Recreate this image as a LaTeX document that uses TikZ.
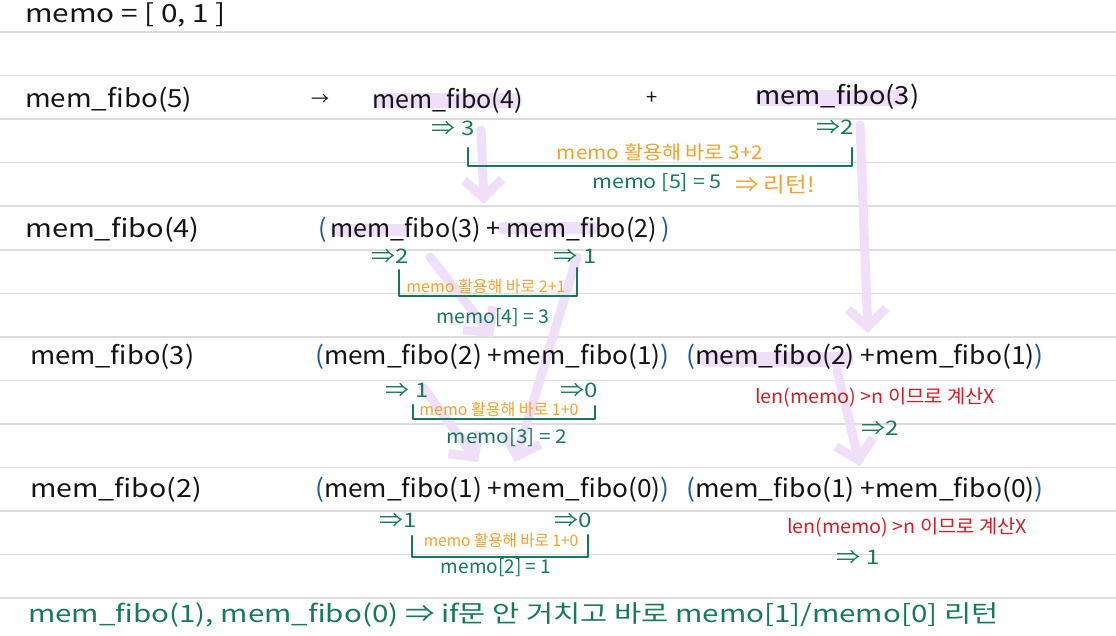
\documentclass[tikz,border=0pt]{standalone}
\usepackage{fontspec}
\setmainfont{Noto Sans CJK KR}
\usetikzlibrary{arrows.meta}
\definecolor{ink}{HTML}{141414}
\definecolor{pgreen}{HTML}{17795A}
\definecolor{porange}{HTML}{F0A22E}
\definecolor{pred}{HTML}{CF1F28}
\definecolor{pblue}{HTML}{1E5A96}
\definecolor{lav}{HTML}{EFDFF8}
\definecolor{rulec}{HTML}{DCDCDC}
\newcommand{\lp}{{\color{pblue}(}}
\newcommand{\rp}{{\color{pblue})}}
\newcommand{\xstr}[2]{\scalebox{#1}[1]{#2}}
\begin{document}
\begin{tikzpicture}[x=1pt,y=-1pt,
 big/.style={font=\fontsize{25}{27}\selectfont, text=ink, inner sep=0pt, anchor=west},
 gr/.style={font=\fontsize{19}{21}\selectfont, text=pgreen, inner sep=0pt},
 arrl/.style={font=\fontsize{20}{22}\selectfont, text=pgreen, inner sep=0pt},
 org/.style={font=\fontsize{16}{18}\selectfont, text=porange, inner sep=0pt},
 rd/.style={font=\fontsize{19}{21}\selectfont, text=pred, inner sep=0pt},
 bracketline/.style={draw=pgreen, line width=2.2pt, line cap=round, line join=round},
 flow/.style={draw=lav, line width=9pt, line cap=round, -{Straight Barb[length=18pt,width=38pt]}},
 hl/.style={fill=lav, rounded corners=6pt},
 ruled/.style={draw=rulec, line width=1.5pt}]
\useasboundingbox (0,0) rectangle (1116,635);
\fill[white] (0,0) rectangle (1116,635);
% ruled lines
\foreach \k in {0,...,13} {\draw[ruled] (0,{32+43.55*\k}) -- (1116,{32+43.55*\k});}
% highlights
\fill[hl] (373,93) rectangle (522,108);
\fill[hl] (756,90) rectangle (905,106);
\fill[hl] (330,224) rectangle (410,236);
\fill[hl] (497,222) rectangle (600,234);
\fill[hl] (700,352) rectangle (853,367);
% flow arrows (coordinates)
\coordinate (a1s) at (481,130); \coordinate (a1e) at (484,204);
\coordinate (a2s) at (860,125); \coordinate (a2e) at (868,333);
\coordinate (a3s) at (430,257); \coordinate (a3e) at (493,337);
\coordinate (a4s) at (577,257); \coordinate (a4e) at (515,462);
\coordinate (a5s) at (423,387); \coordinate (a5e) at (478,462);
\coordinate (a6s) at (837,370); \coordinate (a6e) at (860,466);
\draw[flow] (a1s) -- (a1e);
\draw[flow] (a2s) -- (a2e);
\draw[flow] (a3s) -- (a3e);
\draw[flow] (a4s) -- (a4e);
\draw[flow] (a5s) -- (a5e);
\draw[flow] (a6s) -- (a6e);
% top
\node[big] (memo) at (25,15) {\xstr{1.19}{memo = [ 0, 1 ]}};
% row 1
\node[big] (f5) at (25,100) {\xstr{1.11}{mem\_fibo(5)}};
\node[font=\fontsize{18}{20}\selectfont, text=ink, inner sep=0pt] (arr) at (320,100) {→};
\node[big] (f4) at (372,101) {mem\_fibo(4)};
\node[font=\fontsize{20}{22}\selectfont, text=ink, inner sep=0pt] (plus) at (652,98) {+};
\node[big] (f3) at (755,97) {\xstr{1.09}{mem\_fibo(3)}};
\node[arrl] (r13) at (453,128) {\xstr{1.2}{⇒ 3}};
\node[arrl] (r12) at (835,127) {\xstr{1.2}{⇒2}};
\coordinate (b1a) at (468,148); \coordinate (b1b) at (468,166);
\coordinate (b1c) at (852,166); \coordinate (b1d) at (852,148);
\draw[bracketline] (b1a) -- (b1b) -- (b1c) -- (b1d);
\node[org, font=\fontsize{19}{21}\selectfont] (o1) at (660,152) {\xstr{1.09}{memo 활용해 바로 3+2}};
\node[gr] (m5) at (657,183) {\xstr{1.13}{memo [5] = 5}};
\node[org, font=\fontsize{21}{23}\selectfont] (ret) at (775,185) {\xstr{1.12}{⇒ 리턴!}};
% row 2
\node[big] (f4b) at (25,230) {\xstr{1.16}{mem\_fibo(4)}};
\node[big] (g2) at (318,230) {\lp\,mem\_fibo(3) + mem\_fibo(2)\,\rp};
\node[arrl] (r22) at (390,256) {\xstr{1.2}{⇒2}};
\node[arrl] (r21) at (575,256) {\xstr{1.2}{⇒ 1}};
\coordinate (b2a) at (399,270); \coordinate (b2b) at (399,296);
\coordinate (b2c) at (577,296); \coordinate (b2d) at (577,268);
\draw[bracketline] (b2a) -- (b2b) -- (b2c) -- (b2d);
\node[org] (o2) at (486,286) {memo 활용해 바로 2+1};
\node[gr] (m4) at (493,318) {\xstr{1.03}{memo[4] = 3}};
% row 3
\node[big] (f3b) at (30,357) {\xstr{1.09}{mem\_fibo(3)}};
\node[big] (g3) at (315,357) {\xstr{1.05}{\lp mem\_fibo(2) +mem\_fibo(1)\rp}};
\node[big] (g3r) at (686,357) {\xstr{1.06}{\lp mem\_fibo(2) +mem\_fibo(1)\rp}};
\node[arrl] (r31) at (407,390) {\xstr{1.2}{⇒ 1}};
\node[arrl] (r30) at (579,390) {\xstr{1.2}{⇒0}};
\coordinate (b3a) at (413,405); \coordinate (b3b) at (413,419);
\coordinate (b3c) at (595,419); \coordinate (b3d) at (595,406);
\draw[bracketline] (b3a) -- (b3b) -- (b3c) -- (b3d);
\node[org] (o3) at (499,409) {memo 활용해 바로 1+0};
\node[gr] (m3) at (507,438) {\xstr{1.09}{memo[3] = 2}};
\node[rd] (red3) at (875,397) {\xstr{1.04}{len(memo) >n 이므로 계산X}};
\node[arrl] (r3r) at (880,428) {\xstr{1.2}{⇒2}};
% row 4
\node[big] (f2b) at (30,490) {\xstr{1.14}{mem\_fibo(2)}};
\node[big] (g4) at (315,490) {\xstr{1.05}{\lp mem\_fibo(1) +mem\_fibo(0)\rp}};
\node[big] (g4r) at (686,490) {\xstr{1.06}{\lp mem\_fibo(1) +mem\_fibo(0)\rp}};
\node[arrl] (r41) at (398,520) {\xstr{1.2}{⇒1}};
\node[arrl] (r40) at (573,520) {\xstr{1.2}{⇒0}};
\coordinate (b4a) at (412,536); \coordinate (b4b) at (412,557);
\coordinate (b4c) at (588,557); \coordinate (b4d) at (588,535);
\draw[bracketline] (b4a) -- (b4b) -- (b4c) -- (b4d);
\node[org] (o4) at (501,540) {\xstr{0.97}{memo 활용해 바로 1+0}};
\node[gr] (m2) at (496,568) {memo[2] = 1};
\node[rd] (red4) at (907,527) {\xstr{1.04}{len(memo) >n 이므로 계산X}};
\node[arrl] (r4r) at (858,557) {\xstr{1.2}{⇒ 1}};
% bottom
\node[gr, anchor=west, font=\fontsize{24}{26}\selectfont] (foot) at (28,615) {\xstr{1.23}{mem\_fibo(1), mem\_fibo(0) ⇒ if문 안 거치고 바로 memo[1]/memo[0] 리턴}};
\end{tikzpicture}
\end{document}
